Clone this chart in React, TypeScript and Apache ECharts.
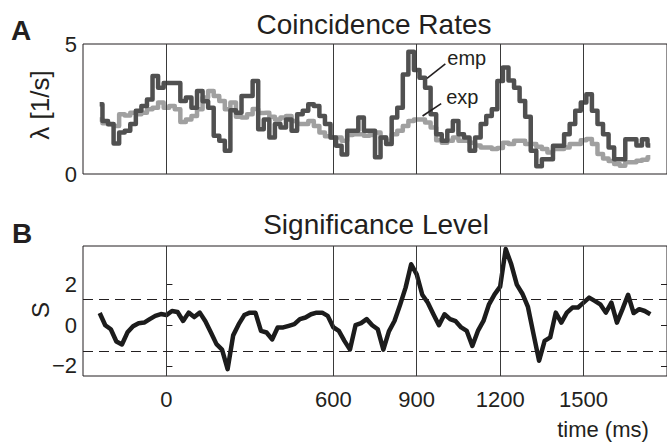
import React, { useEffect, useRef } from "react";
import * as echarts from "echarts";

// Sample times (ms) shared by all three traces
const TIMES: number[] = Array.from({ length: 100 }, (_, i) => -240 + 20 * i);

// Empirical coincidence rate (1/s)
const EMP: number[] = [
  2.68, 2.04, 1.92, 1.17, 1.6, 1.66, 1.92, 2.43, 2.62, 2.87,
  3.77, 3.32, 3.5, 3.5, 3.5, 2.81, 2.94, 2.55, 3.19, 2.8,
  2.55, 1.47, 1.28, 0.89, 2.45, 2.36, 3.0, 3.0, 3.58, 1.72,
  2.1, 1.4, 1.92, 1.79, 2.1, 1.66, 2.3, 2.43, 2.68, 2.62,
  2.23, 1.92, 1.4, 1.09, 0.75, 1.66, 1.66, 2.17, 1.66, 1.66,
  0.64, 1.4, 1.15, 2.17, 2.55, 3.83, 4.7, 4.0, 3.7, 3.32,
  2.3, 1.53, 1.28, 1.66, 2.04, 1.53, 1.4, 0.89, 1.4, 1.92,
  2.23, 2.49, 3.58, 4.1, 3.6, 3.32, 2.81, 2.2, 0.89, 0.3,
  0.57, 0.57, 1.09, 1.09, 1.53, 1.92, 2.43, 2.75, 3.07, 2.43,
  1.92, 1.53, 1.02, 0.57, 0.57, 1.34, 1.34, 1.1, 1.34, 1.1,
];

// Expected coincidence rate (1/s)
const EXP: number[] = [
  2.1, 1.95, 1.9, 1.85, 2.3, 2.25, 2.36, 2.3, 2.36, 2.49,
  2.55, 2.75, 2.55, 2.62, 2.49, 2.0, 2.1, 2.23, 2.49, 2.94,
  3.19, 3.0, 2.81, 2.49, 2.75, 2.2, 2.17, 2.3, 2.5, 2.35,
  2.36, 2.2, 2.1, 2.17, 2.23, 2.04, 1.92, 1.92, 2.04, 1.85,
  1.6, 1.45, 1.4, 1.4, 1.28, 1.5, 1.53, 1.53, 1.47, 1.5,
  1.6, 1.4, 1.28, 1.53, 1.66, 1.85, 2.04, 2.1, 2.1, 1.98,
  1.79, 1.3, 1.2, 1.28, 1.4, 1.28, 1.28, 1.2, 1.1, 1.02,
  1.02, 0.96, 1.0, 1.2, 1.15, 1.28, 1.28, 1.15, 1.15, 1.05,
  0.96, 0.83, 0.96, 0.96, 1.02, 1.15, 1.15, 1.3, 1.35, 1.15,
  0.77, 0.6, 0.5, 0.38, 0.32, 0.45, 0.45, 0.51, 0.55, 0.64,
];

// Significance level S
const SIG: number[] = [
  0.6, 0.0, -0.2, -0.8, -0.95, -0.35, -0.05, 0.1, 0.13, 0.3,
  0.46, 0.55, 0.5, 0.7, 0.65, 0.21, 0.62, 0.4, 0.62, 0.2,
  -0.36, -0.93, -1.2, -2.16, -0.5, 0.05, 0.5, 0.62, 0.62, -0.28,
  -0.36, -0.7, -0.11, -0.11, -0.03, 0.05, 0.3, 0.38, 0.54, 0.62,
  0.62, 0.46, -0.1, -0.28, -0.77, -1.2, 0.0, 0.1, 0.3, 0.0,
  -0.2, -1.2, -0.3, 0.21, 1.0, 1.85, 3.0, 2.5, 1.5, 1.11,
  0.54, 0.0, 0.54, 0.3, 0.2, -0.11, -0.28, -1.02, -0.28, 0.21,
  1.03, 1.52, 1.9, 3.75, 3.0, 2.0, 1.55, 0.9, -0.44, -1.75,
  -0.77, -0.6, 0.62, 0.13, 0.62, 0.87, 0.87, 1.11, 1.36, 1.2,
  1.03, 0.62, 1.11, 0.13, 0.79, 1.5, 0.6, 0.79, 0.7, 0.54,
];

// Event markers (ms) and tick labels
const EVENT_TIMES: number[] = [0, 600, 900, 1200, 1500];
const X_TICKS: number[] = [0, 600, 900, 1200, 1500];
const S_TICKS: number[] = [-2, 0, 2];
const SIG_THRESHOLD = 1.28;

const FONT = '"Liberation Sans", Arial, Helvetica, sans-serif';
const INK = "#231f20";

export default function App() {
  const ref = useRef<HTMLDivElement>(null);

  useEffect(() => {
    if (!ref.current) return;
    const chart = echarts.init(ref.current, undefined, { renderer: "svg" });

    const pairs = (vals: number[]) => TIMES.map((t, i) => [t, vals[i]]);
    const vMarks = EVENT_TIMES.map((x) => ({
      xAxis: x,
      lineStyle: { color: "#3a3a3a", width: 1, type: "solid" as const },
    }));

    const option: any = {
      animation: false,
      backgroundColor: "#ffffff",
      textStyle: { fontFamily: FONT },
      grid: [
        { left: 83, top: 44, width: 584, height: 130, show: true, borderColor: INK, borderWidth: 1, backgroundColor: "transparent" },
        { left: 83, top: 246, width: 584, height: 130, show: true, borderColor: INK, borderWidth: 1, backgroundColor: "transparent" },
      ],
      xAxis: [
        {
          type: "value", gridIndex: 0, min: -300, max: 1800,
          axisLine: { show: false }, axisTick: { show: false },
          axisLabel: { show: false }, splitLine: { show: false },
        },
        {
          type: "value", gridIndex: 1, min: -300, max: 1800,
          axisLine: { show: false }, axisTick: { show: false },
          axisLabel: {
            customValues: X_TICKS, fontSize: 22, color: INK, fontFamily: FONT, margin: 12,
            formatter: (v: number) => String(v),
          },
          splitLine: { show: false },
        },
      ],
      yAxis: [
        {
          type: "value", gridIndex: 0, min: 0, max: 5, interval: 5,
          axisLine: { show: false }, axisTick: { show: false },
          axisLabel: { fontSize: 22, color: INK, fontFamily: FONT, margin: 6 },
          splitLine: { show: false },
        },
        {
          type: "value", gridIndex: 1, min: -2.5, max: 3.9,
          axisLine: { show: false },
          axisTick: { show: true, inside: true, length: 6, customValues: S_TICKS, lineStyle: { color: INK } },
          axisLabel: {
            customValues: S_TICKS, fontSize: 22, color: INK, fontFamily: FONT, margin: 6,
            formatter: (v: number) => (v < 0 ? "\u2212" + Math.abs(v) : String(v)),
          },
          splitLine: { show: false },
        },
        {
          type: "value", gridIndex: 1, min: -2.5, max: 3.9, position: "right",
          axisLine: { show: false },
          axisTick: { show: true, inside: true, length: 6, customValues: S_TICKS, lineStyle: { color: INK } },
          axisLabel: { show: false },
          splitLine: { show: false },
        },
      ],
      series: [
        {
          name: "eventsTop", type: "line", xAxisIndex: 0, yAxisIndex: 0, data: [], z: 1,
          markLine: { silent: true, symbol: ["none", "none"], label: { show: false }, data: vMarks },
        },
        {
          name: "exp", type: "line", xAxisIndex: 0, yAxisIndex: 0, step: "middle",
          data: pairs(EXP), showSymbol: false, z: 2,
          lineStyle: { color: "#a0a0a0", width: 4.5, join: "round" },
        },
        {
          name: "emp", type: "line", xAxisIndex: 0, yAxisIndex: 0, step: "middle",
          data: pairs(EMP), showSymbol: false, z: 3,
          lineStyle: { color: "#505050", width: 4.5, join: "round" },
        },
        {
          name: "eventsBottom", type: "line", xAxisIndex: 1, yAxisIndex: 1, data: [], z: 1,
          markLine: {
            silent: true, symbol: ["none", "none"], label: { show: false },
            data: [
              ...vMarks,
              { yAxis: SIG_THRESHOLD, lineStyle: { color: INK, width: 1, type: [10, 6] } },
              { yAxis: -SIG_THRESHOLD, lineStyle: { color: INK, width: 1, type: [10, 6] } },
            ],
          },
        },
        {
          name: "S", type: "line", xAxisIndex: 1, yAxisIndex: 1,
          data: pairs(SIG), showSymbol: false, z: 3,
          lineStyle: { color: "#1c1c1c", width: 4.5, join: "round" },
        },
      ],
    };
    chart.setOption(option);

    // Pointer labels for the two rate traces, placed in data coordinates
    const toPx = (t: number, v: number) => chart.convertToPixel({ gridIndex: 0 }, [t, v]) as number[];
    const pointers = [
      { label: "emp", text: [1010, 4.48], from: [1003, 4.24], to: [937, 3.68] },
      { label: "exp", text: [1006, 2.95], from: [988, 2.71], to: [921, 2.23] },
    ];
    const pointerGraphics: any[] = [];
    pointers.forEach((p) => {
      const tp = toPx(p.text[0], p.text[1]);
      const a = toPx(p.from[0], p.from[1]);
      const b = toPx(p.to[0], p.to[1]);
      pointerGraphics.push({
        type: "text", x: tp[0], y: tp[1], z: 10,
        style: { text: p.label, font: `20px ${FONT}`, fill: INK, align: "left", verticalAlign: "middle" },
      });
      pointerGraphics.push({
        type: "line", z: 10,
        shape: { x1: a[0], y1: a[1], x2: b[0], y2: b[1] },
        style: { stroke: INK, lineWidth: 1.6 },
      });
    });

    const txt = (text: string, x: number, y: number, font: string, extra: any = {}) => ({
      type: "text", x, y, z: 10,
      style: { text, font, fill: INK, align: "center", verticalAlign: "middle" },
      ...extra,
    });

    chart.setOption({
      graphic: [
        txt("A", 21, 30, `bold 28px ${FONT}`),
        txt("B", 22, 233, `bold 28px ${FONT}`),
        txt("Coincidence Rates", 374, 24, `28px ${FONT}`),
        txt("Significance Level", 376, 224, `28px ${FONT}`),
        txt("\u03bb [1/s]", 40, 105, `26px ${FONT}`, { rotation: Math.PI / 2 }),
        txt("S", 40, 310, `24px ${FONT}`, { rotation: Math.PI / 2 }),
        txt("time (ms)", 603, 429, `22px ${FONT}`),
        ...pointerGraphics,
      ],
    });

    return () => chart.dispose();
  }, []);

  return (
    <div
      ref={ref}
      style={{ position: "fixed", left: 0, top: 0, width: 667, height: 444, background: "#fff" }}
    />
  );
}
